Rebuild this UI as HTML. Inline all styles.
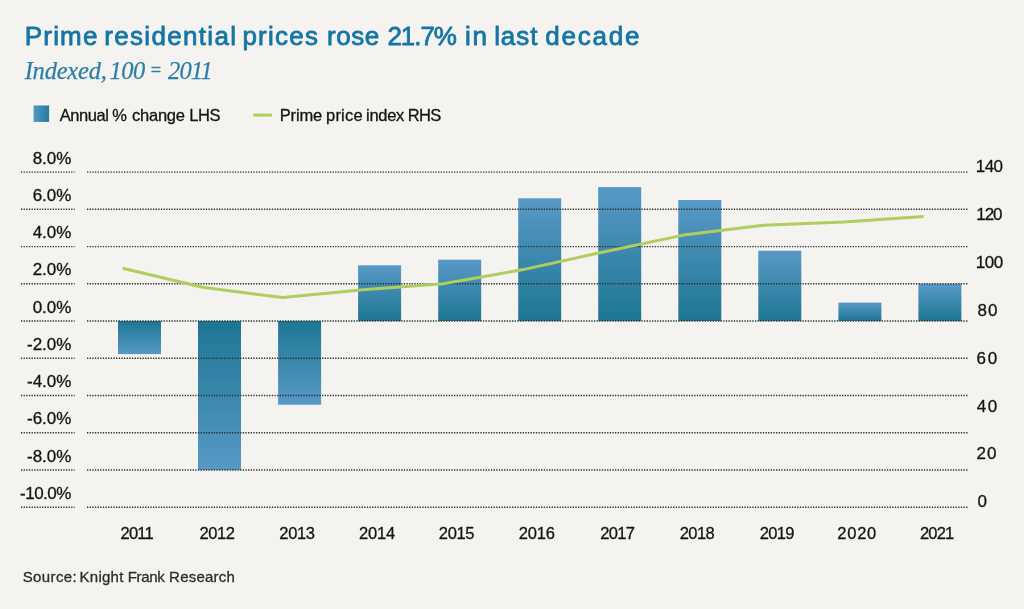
<!DOCTYPE html>
<html lang="en"><head><meta charset="utf-8"><title>Prime residential prices rose 21.7% in last decade</title>
<style>
html,body{margin:0;padding:0;background:#f4f3ef;}
body{width:1024px;height:609px;overflow:hidden;position:relative;font-family:"Liberation Sans",sans-serif;}
svg{position:absolute;left:0;top:0;display:block;}
text{font-family:"Liberation Sans",sans-serif;fill:#141414;stroke:#141414;stroke-width:0.3px;stroke-linejoin:round;}
.title{font-size:26px;fill:#1476a5;stroke:#1476a5;stroke-width:0.8px;}
.sub{font-family:"Liberation Serif",serif;font-style:italic;font-size:24.5px;fill:#2c7fa8;stroke:#2c7fa8;stroke-width:0.25px;}
.lg{font-size:16.5px;}
.ax{font-size:17px;}
.yr{font-size:16.5px;}
.src{font-size:15px;fill:#2d2d2d;stroke:#2d2d2d;stroke-width:0.3px;}
.grid line{stroke:#303030;stroke-width:1.4;stroke-dasharray:1.32 1.32;}
</style></head><body>
<svg width="1024" height="609" viewBox="0 0 1024 609">
<defs>
<linearGradient id="gp" x1="0" y1="0" x2="0" y2="1"><stop offset="0" stop-color="#5899c7"/><stop offset="1" stop-color="#1e7693"/></linearGradient>
<linearGradient id="gn" x1="0" y1="0" x2="0" y2="1"><stop offset="0" stop-color="#1e7693"/><stop offset="1" stop-color="#5899c7"/></linearGradient>
<linearGradient id="gl" x1="0" y1="0" x2="1" y2="0"><stop offset="0" stop-color="#5298c4"/><stop offset="1" stop-color="#267b9b"/></linearGradient>
</defs>
<rect width="1024" height="609" fill="#f4f3ef"/>
<text class="title" y="45.2"><tspan x="24.85" y="45.2" letter-spacing="1.15">Prime</tspan> <tspan x="104.15" y="45.2" letter-spacing="1.34">residential</tspan> <tspan x="242.45" y="45.2" letter-spacing="1.22">prices</tspan> <tspan x="326.95" y="45.2" letter-spacing="0.60">rose</tspan> <tspan x="387.40" y="45.2" letter-spacing="-1.04">21.7%</tspan> <tspan x="464.95" y="45.2" letter-spacing="1.85">in</tspan> <tspan x="494.15" y="45.2" letter-spacing="0.93">last</tspan> <tspan x="545.15" y="45.2" letter-spacing="1.81">decade</tspan></text>
<text class="sub" y="79.3"><tspan x="24.65" y="79.3" letter-spacing="-0.21">Indexed,</tspan> <tspan x="109.45" y="79.3" letter-spacing="-0.48">100</tspan> <tspan x="149.80" y="76.00" font-size="18" stroke-width="0.5">=</tspan> <tspan x="167.90" y="79.3" letter-spacing="-0.75">2011</tspan></text>
<rect x="33.6" y="105.5" width="15.5" height="16.4" fill="url(#gl)"/>
<text class="lg" y="120.9"><tspan x="59.70" y="120.9" letter-spacing="-0.42">Annual</tspan> <tspan x="112.30" y="120.9" letter-spacing="0.00">%</tspan> <tspan x="132.10" y="120.9" letter-spacing="-0.26">change</tspan> <tspan x="189.15" y="120.9" letter-spacing="-0.42">LHS</tspan></text>
<line x1="253.2" y1="115.1" x2="271.9" y2="115.1" stroke="#b0cd5e" stroke-width="3" stroke-linecap="butt"/>
<text class="lg" y="120.9"><tspan x="279.75" y="120.9" letter-spacing="-0.16">Prime</tspan> <tspan x="326.00" y="120.9" letter-spacing="0.21">price</tspan> <tspan x="366.00" y="120.9" letter-spacing="-0.29">index</tspan> <tspan x="407.75" y="120.9" letter-spacing="-0.65">RHS</tspan></text>
<g class="bars">
<rect x="118.0" y="321.0" width="43" height="33.1" fill="url(#gn)"/>
<rect x="198.0" y="321.0" width="43" height="149.0" fill="url(#gn)"/>
<rect x="278.1" y="321.0" width="43" height="83.7" fill="url(#gn)"/>
<rect x="358.1" y="265.3" width="43" height="55.7" fill="url(#gp)"/>
<rect x="438.2" y="259.7" width="43" height="61.3" fill="url(#gp)"/>
<rect x="518.2" y="198.3" width="43" height="122.7" fill="url(#gp)"/>
<rect x="598.2" y="187.1" width="43" height="133.9" fill="url(#gp)"/>
<rect x="678.3" y="200.0" width="43" height="121.0" fill="url(#gp)"/>
<rect x="758.3" y="250.7" width="43" height="70.3" fill="url(#gp)"/>
<rect x="838.4" y="302.6" width="43" height="18.4" fill="url(#gp)"/>
<rect x="918.4" y="283.8" width="43" height="37.2" fill="url(#gp)"/>
</g>
<g class="grid">
<line x1="21" y1="172.1" x2="74.6" y2="172.1"/>
<line x1="87" y1="172.1" x2="968" y2="172.1"/>
<line x1="21" y1="209.3" x2="74.6" y2="209.3"/>
<line x1="87" y1="209.3" x2="968" y2="209.3"/>
<line x1="21" y1="246.6" x2="74.6" y2="246.6"/>
<line x1="87" y1="246.6" x2="968" y2="246.6"/>
<line x1="21" y1="283.8" x2="74.6" y2="283.8"/>
<line x1="87" y1="283.8" x2="968" y2="283.8"/>
<line x1="21" y1="321.0" x2="74.6" y2="321.0"/>
<line x1="87" y1="321.0" x2="968" y2="321.0"/>
<line x1="21" y1="358.3" x2="74.6" y2="358.3"/>
<line x1="87" y1="358.3" x2="968" y2="358.3"/>
<line x1="21" y1="395.5" x2="74.6" y2="395.5"/>
<line x1="87" y1="395.5" x2="968" y2="395.5"/>
<line x1="21" y1="432.7" x2="74.6" y2="432.7"/>
<line x1="87" y1="432.7" x2="968" y2="432.7"/>
<line x1="21" y1="470.0" x2="74.6" y2="470.0"/>
<line x1="87" y1="470.0" x2="968" y2="470.0"/>
<line x1="21" y1="507.2" x2="74.6" y2="507.2"/>
<line x1="87" y1="507.2" x2="968" y2="507.2"/>
</g>
<polyline points="122.6,268.2 202.7,287.3 282.8,297.6 362.9,289.8 443.0,283.8 523.1,269.6 603.3,252.0 683.4,235.1 763.5,225.3 843.6,222.0 923.7,216.5" fill="none" stroke="#b0cd5e" stroke-width="3" stroke-linejoin="round" stroke-linecap="butt"/>
<text class="ax" x="71.4" y="163.7" text-anchor="end" letter-spacing="0">8.0%</text>
<text class="ax" x="71.4" y="200.9" text-anchor="end" letter-spacing="0">6.0%</text>
<text class="ax" x="71.4" y="238.2" text-anchor="end" letter-spacing="0">4.0%</text>
<text class="ax" x="71.4" y="275.4" text-anchor="end" letter-spacing="0">2.0%</text>
<text class="ax" x="71.4" y="312.6" text-anchor="end" letter-spacing="0">0.0%</text>
<text class="ax" x="71.4" y="349.9" text-anchor="end" letter-spacing="0">-2.0%</text>
<text class="ax" x="71.4" y="387.1" text-anchor="end" letter-spacing="0">-4.0%</text>
<text class="ax" x="71.4" y="424.3" text-anchor="end" letter-spacing="0">-6.0%</text>
<text class="ax" x="71.4" y="461.6" text-anchor="end" letter-spacing="0">-8.0%</text>
<text class="ax" x="70.9" y="498.8" text-anchor="end" letter-spacing="-0.5">-10.0%</text>
<text class="ax" x="975.75" y="172.2" letter-spacing="-0.55">140</text>
<text class="ax" x="976.35" y="220.1" letter-spacing="-1.15">120</text>
<text class="ax" x="975.75" y="267.9" letter-spacing="-0.40">100</text>
<text class="ax" x="977.40" y="315.8" letter-spacing="1.15">80</text>
<text class="ax" x="976.55" y="363.6" letter-spacing="1.70">60</text>
<text class="ax" x="976.75" y="411.5" letter-spacing="1.50">40</text>
<text class="ax" x="976.55" y="459.4" letter-spacing="1.10">20</text>
<text class="ax" x="977.40" y="507.2" letter-spacing="0.00">0</text>
<text class="yr" x="120.50" y="539.1" letter-spacing="-0.80">2011</text>
<text class="yr" x="199.45" y="539.1" letter-spacing="-0.38">2012</text>
<text class="yr" x="279.35" y="539.1" letter-spacing="-0.35">2013</text>
<text class="yr" x="358.95" y="539.1" letter-spacing="-0.17">2014</text>
<text class="yr" x="438.85" y="539.1" letter-spacing="-0.35">2015</text>
<text class="yr" x="518.85" y="539.1" letter-spacing="-0.22">2016</text>
<text class="yr" x="600.15" y="539.1" letter-spacing="-0.68">2017</text>
<text class="yr" x="679.65" y="539.1" letter-spacing="-0.52">2018</text>
<text class="yr" x="759.65" y="539.1" letter-spacing="-0.68">2019</text>
<text class="yr" x="837.35" y="539.1" letter-spacing="0.73">2020</text>
<text class="yr" x="919.93" y="539.1" letter-spacing="-0.80">2021</text>
<text class="src" y="582.4"><tspan x="22.70" y="582.4" letter-spacing="0.38">Source:</tspan> <tspan x="79.60" y="582.4" letter-spacing="0.24">Knight</tspan> <tspan x="127.70" y="582.4" letter-spacing="-0.30">Frank</tspan> <tspan x="169.10" y="582.4" letter-spacing="0.21">Research</tspan></text>
</svg>
</body></html>
